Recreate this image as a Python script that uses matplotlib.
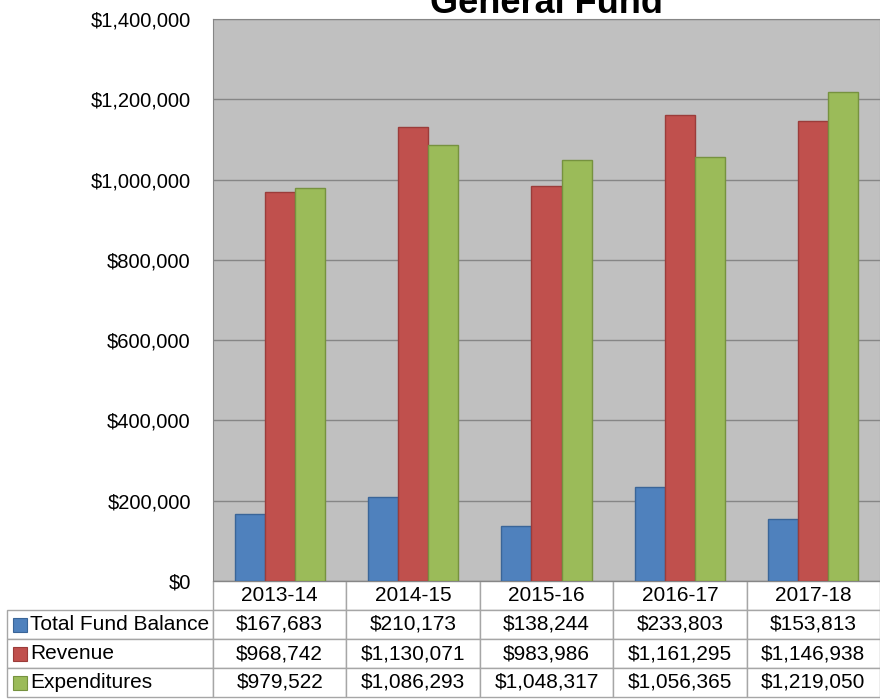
import matplotlib.pyplot as plt
from matplotlib.patches import Rectangle
from matplotlib.ticker import FuncFormatter
import numpy as np

plt.rcParams['font.family'] = ['Liberation Sans', 'DejaVu Sans']

years = ['2013-14', '2014-15', '2015-16', '2016-17', '2017-18']
series = ['Total Fund Balance', 'Revenue', 'Expenditures']
fund_balance = [167683, 210173, 138244, 233803, 153813]
revenue = [968742, 1130071, 983986, 1161295, 1146938]
expenditures = [979522, 1086293, 1048317, 1056365, 1219050]

colors = ['#4F81BD', '#C0504D', '#9BBB59']
edges = ['#3A6598', '#9B3C3A', '#76923F']
grid_c = '#868686'
cell_c = '#A6A6A6'

fig = plt.figure(figsize=(8.8, 7), dpi=100)
ax = fig.add_axes([213/880, 1 - 581/700, 667/880, 562/700])
ax.set_facecolor('#C0C0C0')

x = np.arange(len(years))
w = 0.225
for i, vals in enumerate([fund_balance, revenue, expenditures]):
    ax.bar(x + (i - 1) * w, vals, w, color=colors[i], edgecolor=edges[i],
           linewidth=1, zorder=3)

ax.set_xlim(-0.5, len(years) - 0.5)
ax.set_ylim(0, 1400000)
ax.set_yticks(np.arange(0, 1400001, 200000))
ax.yaxis.set_major_formatter(FuncFormatter(lambda v, p: '${:,.0f}'.format(v)))
ax.tick_params(axis='y', length=0, pad=16, labelsize=14.5)
ax.set_xticks([])
ax.grid(axis='y', color=grid_c, linewidth=1, zorder=1)
for s in ax.spines.values():
    s.set_color(grid_c)

fig.text((213 + 880) / 2 / 880, 1 - 13/700, 'General Fund', ha='center',
         va='baseline', fontsize=26, fontweight='bold')

# data table under the plot, in axes coordinates
row_h = 29 / 562
label_x = (7 - 213) / 667
col_w = 1 / len(years)
fs = 15
tab_kw = dict(clip_on=False, transform=ax.transAxes)

for j, yr in enumerate(years):
    ax.add_patch(Rectangle((j * col_w, -row_h), col_w, row_h, facecolor='white',
                           edgecolor=cell_c, linewidth=1, **tab_kw))
    ax.text((j + 0.5) * col_w, -row_h / 2, yr, ha='center', va='center',
            fontsize=fs, **tab_kw)

rows = [fund_balance, revenue, expenditures]
for i, vals in enumerate(rows):
    y0 = -(i + 2) * row_h
    ax.add_patch(Rectangle((label_x, y0), -label_x, row_h, facecolor='white',
                           edgecolor=cell_c, linewidth=1, **tab_kw))
    ax.add_patch(Rectangle((label_x + 6/667, y0 + 7/562), 14/667, 14/562,
                           facecolor=colors[i], edgecolor=edges[i],
                           linewidth=0.8, **tab_kw))
    ax.text(label_x + 23/667, y0 + row_h / 2, series[i], ha='left', va='center',
            fontsize=fs, **tab_kw)
    for j, v in enumerate(vals):
        ax.add_patch(Rectangle((j * col_w, y0), col_w, row_h, facecolor='white',
                               edgecolor=cell_c, linewidth=1, **tab_kw))
        ax.text((j + 0.5) * col_w, y0 + row_h / 2, '${:,}'.format(v),
                ha='center', va='center', fontsize=fs, **tab_kw)

fig.savefig('out.png', dpi=100)
